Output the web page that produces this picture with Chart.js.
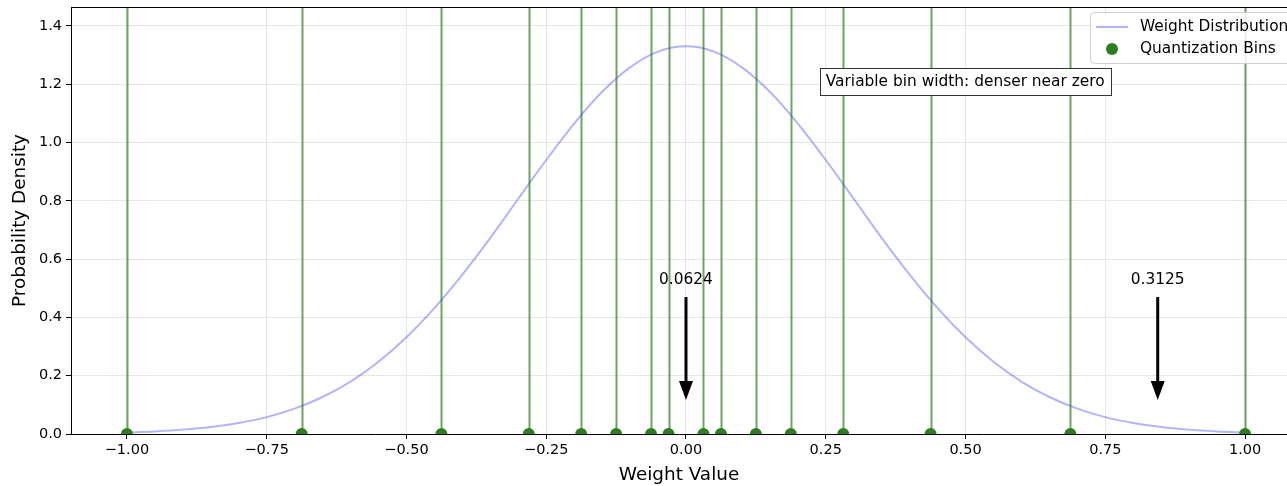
<!DOCTYPE html>
<html>
<head>
<meta charset="utf-8">
<script src="https://cdn.jsdelivr.net/npm/chart.js@4.4.1/dist/chart.umd.min.js"></script>
<style>
  html, body { margin: 0; padding: 0; background: #fff; }
  #wrap { width: 1287px; height: 486px; }
</style>
</head>
<body>
<div id="wrap"><canvas id="quantChart" width="1287" height="486"></canvas></div>
<script>
// weight distribution curve
const curveX = [-1.0, -0.95, -0.9, -0.85, -0.8, -0.75, -0.7, -0.65, -0.6, -0.55, -0.5, -0.45, -0.4, -0.35, -0.3, -0.25, -0.2, -0.15, -0.1, -0.05,
                0.0, 0.05, 0.1, 0.15, 0.2, 0.25, 0.3, 0.35, 0.4, 0.45, 0.5, 0.55, 0.6, 0.65, 0.7, 0.75, 0.8, 0.85, 0.9, 0.95, 1.0];
const curveY = [0.005, 0.009, 0.015, 0.024, 0.038, 0.058, 0.087, 0.127, 0.180, 0.248, 0.332, 0.432, 0.547, 0.673, 0.807, 0.940, 1.065, 1.174, 1.258, 1.312,
                1.330, 1.312, 1.258, 1.174, 1.065, 0.940, 0.807, 0.673, 0.547, 0.432, 0.332, 0.248, 0.180, 0.127, 0.087, 0.058, 0.038, 0.024, 0.015, 0.009, 0.005];

// quantization bin positions
const binValues = [-1.0, -0.6875, -0.4375, -0.28125, -0.1875, -0.125, -0.0625, -0.03125,
                   0.03125, 0.0625, 0.125, 0.1875, 0.28125, 0.4375, 0.6875, 1.0];

// arrow annotations (bin width labels)
const arrowX = [0.0, 0.84375];
const arrowLabels = ["0.0624", "0.3125"];

const xTicks = [-1.0, -0.75, -0.5, -0.25, 0.0, 0.25, 0.5, 0.75, 1.0];
const xTickLabels = ["\u22121.00", "\u22120.75", "\u22120.50", "\u22120.25", "0.00", "0.25", "0.50", "0.75", "1.00"];
const yTicks = [0.0, 0.2, 0.4, 0.6, 0.8, 1.0, 1.2, 1.4];
const yTickLabels = ["0.0", "0.2", "0.4", "0.6", "0.8", "1.0", "1.2", "1.4"];

const FONT = "'DejaVu Sans', sans-serif";
const curveColor = "rgba(0, 0, 255, 0.3)";
const binColor = "#2e7d1f";
const binLineColor = "rgba(46, 125, 31, 0.7)";

const extras = {
    id: "extras",
    afterDatasetDraw(chart, args) {
        // vertical bin lines on top of the curve, under the dots
        if (args.index !== 1) return;
        const ctx = chart.ctx, x = chart.scales.x, a = chart.chartArea;
        ctx.save();
        ctx.strokeStyle = binLineColor;
        ctx.lineWidth = 2;
        binValues.forEach(v => {
            const px = Math.round(x.getPixelForValue(v)) + 0.5;
            ctx.beginPath();
            ctx.moveTo(px, a.top);
            ctx.lineTo(px, a.bottom);
            ctx.stroke();
        });
        ctx.restore();
    },
    afterDraw(chart) {
        const ctx = chart.ctx, x = chart.scales.x, y = chart.scales.y, a = chart.chartArea;
        ctx.save();
        // top spine
        ctx.strokeStyle = "#000";
        ctx.lineWidth = 1;
        ctx.beginPath();
        ctx.moveTo(a.left, a.top + 0.5);
        ctx.lineTo(a.right, a.top + 0.5);
        ctx.stroke();

        // arrows with labels
        ctx.font = "15.4px " + FONT;
        ctx.fillStyle = "#000";
        ctx.textAlign = "center";
        ctx.textBaseline = "middle";
        arrowX.forEach((v, i) => {
            const px = x.getPixelForValue(v);
            const tail = y.getPixelForValue(0.47);
            const tip = y.getPixelForValue(0.117);
            ctx.fillText(arrowLabels[i], px, y.getPixelForValue(0.528));
            ctx.strokeStyle = "#000";
            ctx.lineWidth = 3;
            ctx.beginPath();
            ctx.moveTo(px, tail);
            ctx.lineTo(px, tip - 15);
            ctx.stroke();
            ctx.beginPath();
            ctx.moveTo(px - 7, tip - 19);
            ctx.lineTo(px + 7, tip - 19);
            ctx.lineTo(px, tip);
            ctx.closePath();
            ctx.fill();
        });

        // text box
        const label = "Variable bin width: denser near zero";
        const tx = x.getPixelForValue(0.25);
        const ty = y.getPixelForValue(1.211);
        const tw = ctx.measureText(label).width;
        ctx.fillStyle = "#fff";
        ctx.fillRect(tx - 6, ty - 13, tw + 12, 27);
        ctx.strokeStyle = "#333";
        ctx.lineWidth = 1;
        ctx.strokeRect(Math.round(tx - 6) + 0.5, Math.round(ty - 13) + 0.5, Math.round(tw + 12), 27);
        ctx.fillStyle = "#000";
        ctx.textAlign = "left";
        ctx.fillText(label, tx, ty + 1);

        // legend
        const lx = 1090, ly = 12;
        ctx.fillStyle = "rgba(255,255,255,0.85)";
        ctx.strokeStyle = "#d0d0d0";
        ctx.beginPath();
        ctx.roundRect(lx + 0.5, ly + 0.5, 220, 51, 4);
        ctx.fill();
        ctx.stroke();
        ctx.strokeStyle = curveColor;
        ctx.lineWidth = 2;
        ctx.beginPath();
        ctx.moveTo(lx + 6, ly + 15);
        ctx.lineTo(lx + 38, ly + 15);
        ctx.stroke();
        ctx.fillStyle = binColor;
        ctx.beginPath();
        ctx.arc(lx + 22, ly + 37, 6, 0, Math.PI * 2);
        ctx.fill();
        ctx.fillStyle = "#000";
        ctx.textAlign = "left";
        ctx.fillText("Weight Distribution", lx + 50, ly + 15);
        ctx.fillText("Quantization Bins", lx + 50, ly + 37);
        ctx.restore();
    }
};

new Chart(document.getElementById("quantChart"), {
    type: "scatter",
    data: {
        datasets: [
            {
                label: "Quantization Bins",
                data: binValues.map(v => ({ x: v, y: 0 })),
                backgroundColor: binColor,
                borderColor: binColor,
                pointRadius: 6,
                borderWidth: 0,
                clip: 0
            },
            {
                label: "Weight Distribution",
                data: curveX.map((v, i) => ({ x: v, y: curveY[i] })),
                showLine: true,
                borderColor: curveColor,
                borderWidth: 2,
                pointRadius: 0,
                cubicInterpolationMode: "monotone",
                clip: 0
            }
        ]
    },
    plugins: [extras],
    options: {
        responsive: false,
        animation: false,
        layout: { autoPadding: false, padding: { top: 7, left: 0, right: 0, bottom: 0 } },
        plugins: { legend: { display: false }, tooltip: { enabled: false } },
        scales: {
            x: {
                type: "linear",
                min: -1.1,
                max: 1.075,
                afterBuildTicks: s => { s.ticks = xTicks.map(v => ({ value: v })); },
                afterFit: s => { s.height = 52; s.paddingLeft = 0; s.paddingRight = 0; },
                ticks: {
                    callback: (v, i) => xTickLabels[i],
                    font: { family: FONT, size: 14.5 },
                    color: "#000",
                    padding: 3,
                    maxRotation: 0
                },
                grid: { color: "#e6e6e6", tickColor: "#000", tickLength: 5 },
                border: { color: "#000", width: 1 },
                title: {
                    display: true,
                    text: "Weight Value",
                    font: { family: FONT, size: 18.4 },
                    color: "#000",
                    padding: { top: 0, bottom: 0 }
                }
            },
            y: {
                type: "linear",
                min: 0,
                max: 1.465,
                afterBuildTicks: s => { s.ticks = yTicks.map(v => ({ value: v })); },
                afterFit: s => { s.width = 71; s.paddingTop = 0; s.paddingBottom = 0; },
                ticks: {
                    callback: (v, i) => yTickLabels[i],
                    font: { family: FONT, size: 14.5 },
                    color: "#000",
                    padding: 4
                },
                grid: { color: "#e6e6e6", tickColor: "#000", tickLength: 5 },
                border: { color: "#000", width: 1 },
                title: {
                    display: true,
                    text: "Probability Density",
                    font: { family: FONT, size: 18.4 },
                    color: "#000",
                    padding: { top: 9, bottom: 0 }
                }
            }
        }
    }
});
</script>
</body>
</html>
